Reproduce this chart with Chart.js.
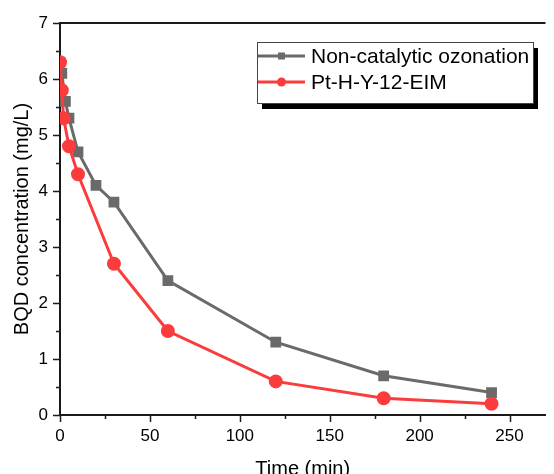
<!DOCTYPE html>
<html>
<head>
<meta charset="utf-8">
<script src="https://cdn.jsdelivr.net/npm/chart.js@4/dist/chart.umd.min.js"></script>
<style>
    html, body { margin: 0; padding: 0; background: #fff; }
    #wrap { position: relative; width: 554px; height: 474px; }
</style>
</head>
<body>
<div id="wrap"><canvas id="chart"></canvas></div>
<script>
// Sampling times (min) and BQD concentration (mg/L)
const timesNonCat = [0, 1, 3, 5, 10, 20, 30, 60, 120, 180, 240];
const bqdNonCat = [6.3, 6.1, 5.6, 5.3, 4.7, 4.1, 3.8, 2.4, 1.3, 0.7, 0.4];
const timesPt = [0, 1, 2, 5, 10, 30, 60, 120, 180, 240];
const bqdPt = [6.3, 5.8, 5.3, 4.8, 4.3, 2.7, 1.5, 0.6, 0.3, 0.2];

// Tick positions (labels on the major ones only)
const xTicks = [0, 25, 50, 75, 100, 125, 150, 175, 200, 225, 250];
const yTicks = [0, 1, 2, 3, 4, 5, 6, 7];

const seriesNames = ['Non-catalytic ozonation', 'Pt-H-Y-12-EIM'];
const xTitle = 'Time (min)';
const yTitle = 'BQD concentration (mg/L)';

const GRAY = '#6a6a6a';
const RED = '#fb3c3c';
const AXIS = '#1a1a1a';
const FONT = '"Liberation Sans", Arial, sans-serif';

function toPoints(xs, ys) {
    return xs.map((x, i) => ({x: x, y: ys[i]}));
}

/**
 * Draws top frame line, outward major / minor ticks and the boxed legend
 */
const pluginFrame = {
    id: 'frame',
    afterDraw: function(chart) {
        'use strict';
        const ctx = chart.ctx;
        const area = chart.chartArea;
        const xs = chart.scales.x;
        const ys = chart.scales.y;
        ctx.save();
        ctx.strokeStyle = AXIS;
        ctx.lineWidth = 2;
        ctx.beginPath();
        ctx.moveTo(area.left - 1, area.top);
        ctx.lineTo(area.right, area.top);
        ctx.stroke();

        ctx.lineWidth = 1.5;
        ctx.beginPath();
        xTicks.forEach((v) => {
            const px = Math.round(xs.getPixelForValue(v)) + 0.5;
            const len = v % 50 === 0 ? 7 : 4;
            ctx.moveTo(px, area.bottom);
            ctx.lineTo(px, area.bottom + len);
        });
        for (let v = 0; v <= ys.max; v += 0.5) {
            const py = Math.round(ys.getPixelForValue(v)) + 0.5;
            const len = v % 1 === 0 ? 7 : 4;
            ctx.moveTo(area.left, py);
            ctx.lineTo(area.left - len, py);
        }
        ctx.stroke();

        // legend box with drop shadow
        const bx = 257, by = 42, bw = 276, bh = 61;
        ctx.fillStyle = '#000';
        ctx.fillRect(bx + 5, by + 6, bw, bh);
        ctx.fillStyle = '#fff';
        ctx.fillRect(bx, by, bw, bh);
        ctx.strokeStyle = '#444';
        ctx.lineWidth = 1;
        ctx.strokeRect(bx + 0.5, by + 0.5, bw, bh);

        const rows = [
            {y: 56, color: GRAY, style: 'rect'},
            {y: 82, color: RED, style: 'circle'},
        ];
        ctx.font = '21px ' + FONT;
        ctx.textBaseline = 'middle';
        ctx.textAlign = 'left';
        rows.forEach((row, i) => {
            ctx.strokeStyle = row.color;
            ctx.fillStyle = row.color;
            ctx.lineWidth = 3;
            ctx.beginPath();
            ctx.moveTo(258, row.y);
            ctx.lineTo(305, row.y);
            ctx.stroke();
            if (row.style === 'rect') {
                ctx.fillRect(278, row.y - 3.5, 7, 7);
            } else {
                ctx.beginPath();
                ctx.arc(281.5, row.y, 4.5, 0, Math.PI * 2);
                ctx.fill();
            }
            ctx.fillStyle = '#000';
            ctx.fillText(seriesNames[i], 311, row.y + 1);
        });
        ctx.restore();
    },
};

const chart = new Chart(document.getElementById('chart'), {
    type: 'line',
    data: {
        datasets: [
            {
                label: seriesNames[0],
                data: toPoints(timesNonCat, bqdNonCat),
                borderColor: GRAY,
                backgroundColor: GRAY,
                borderWidth: 3,
                pointStyle: 'rect',
                pointRadius: 5.5,
                pointHoverRadius: 5.5,
                order: 2,
            },
            {
                label: seriesNames[1],
                data: toPoints(timesPt, bqdPt),
                borderColor: RED,
                backgroundColor: RED,
                borderWidth: 3,
                pointStyle: 'circle',
                pointRadius: 5.5,
                pointHoverRadius: 5.5,
                order: 1,
            },
        ],
    },
    options: {
        responsive: true,
        maintainAspectRatio: false,
        animation: false,
        layout: {padding: {top: 23, right: 0, left: 0, bottom: 0}},
        scales: {
            x: {
                type: 'linear',
                min: 0,
                max: 270,
                grid: {display: false, drawTicks: false},
                border: {display: true, color: AXIS, width: 2},
                afterBuildTicks: (scale) => {
                    scale.ticks = xTicks.map((v) => ({value: v}));
                },
                ticks: {
                    padding: 11,
                    maxRotation: 0,
                    autoSkip: false,
                    color: '#000',
                    font: {family: FONT, size: 17},
                    callback: (v) => (v % 50 === 0 ? String(v) : ''),
                },
                title: {
                    display: true,
                    text: xTitle,
                    color: '#000',
                    font: {family: FONT, size: 20, lineHeight: 0.5},
                    padding: 0,
                },
                afterFit: (scale) => { scale.height = 59; },
            },
            y: {
                min: 0,
                max: 7,
                grid: {display: false, drawTicks: false},
                border: {display: true, color: AXIS, width: 2},
                afterBuildTicks: (scale) => {
                    scale.ticks = yTicks.map((v) => ({value: v}));
                },
                ticks: {
                    padding: 12,
                    color: '#000',
                    font: {family: FONT, size: 17},
                },
                title: {
                    display: true,
                    text: yTitle,
                    color: '#000',
                    font: {family: FONT, size: 20},
                    padding: {top: 10, bottom: 0},
                },
                afterFit: (scale) => { scale.width = 60; },
            },
        },
        plugins: {
            legend: {display: false},
            tooltip: {enabled: false},
        },
    },
    plugins: [pluginFrame],
});
</script>
</body>
</html>
